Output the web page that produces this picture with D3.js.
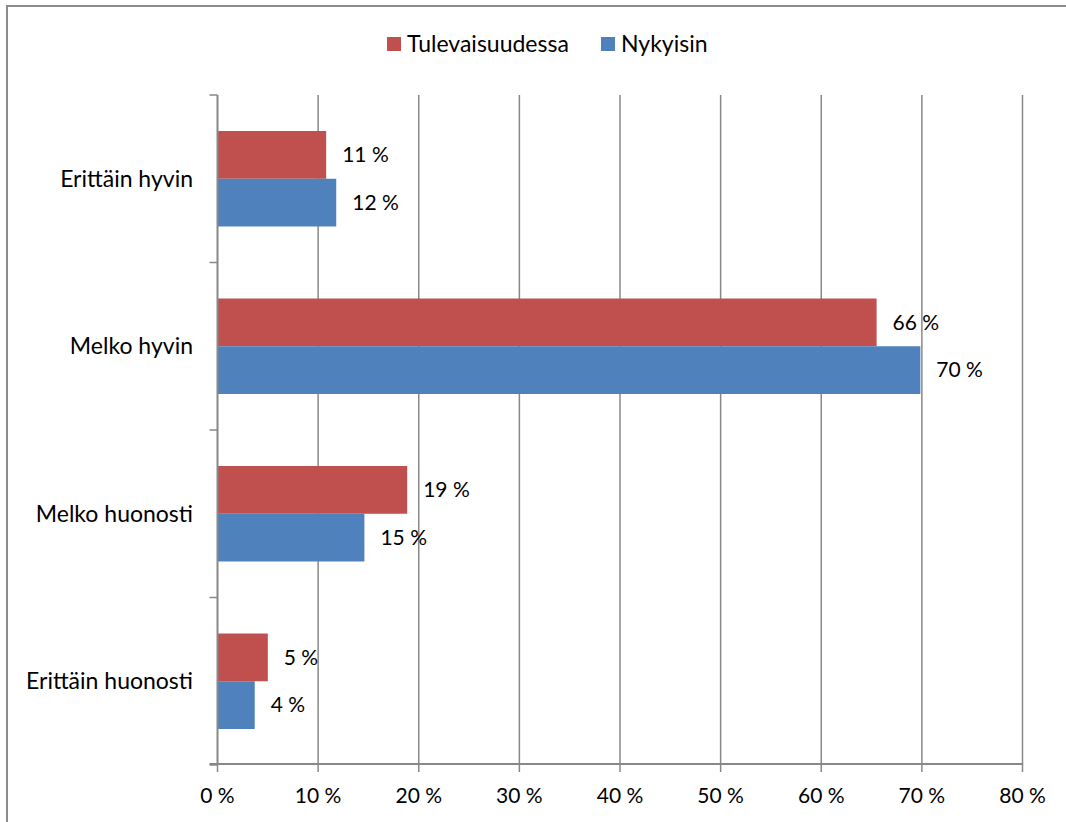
<!DOCTYPE html>
<html>
<head>
<meta charset="utf-8">
<script src="https://cdn.jsdelivr.net/npm/d3@7"></script>
<style>
	body { margin: 0; background: #fff; }
	text { font-family: Lato, "Open Sans", sans-serif; fill: #000; }
</style>
</head>
<body>
<svg id="chart" width="1066" height="822"></svg>
<script>
var categories = ["Erittäin hyvin", "Melko hyvin", "Melko huonosti", "Erittäin huonosti"];
var seriesNames = ["Tulevaisuudessa", "Nykyisin"];
var tulevaisuudessa = [10.8, 65.5, 18.85, 5.0];
var nykyisin = [11.8, 69.85, 14.6, 3.7];
var xTicks = [0, 10, 20, 30, 40, 50, 60, 70, 80];
var colors = ["#C0504D", "#4F81BD"];

var svg = d3.select("#chart");
var numSize = 21;   // numerot
var labelSize = 23; // nimet ja selite

// ulkokehys
svg.append("rect")
	.attr("x", 7).attr("y", 6)
	.attr("width", 1070).attr("height", 830)
	.attr("fill", "none")
	.attr("stroke", "#8c8c8c")
	.attr("stroke-width", 2);

var x = d3.scaleLinear().domain([0, 80]).range([217.5, 1022.5]);
var y = d3.scaleBand().domain(categories).range([95, 765])
	.paddingInner(0.43).paddingOuter(0.215);
var ySub = d3.scaleBand().domain(seriesNames).range([0, y.bandwidth()]);

// pystysuorat apuviivat
svg.append("g").selectAll("line")
	.data(xTicks.slice(1))
	.enter().append("line")
	.attr("x1", function(d){ return x(d); })
	.attr("x2", function(d){ return x(d); })
	.attr("y1", 95).attr("y2", 765)
	.attr("stroke", "#888").attr("stroke-width", 1.5);

var rows = categories.map(function(c, i) {
	return [
		{cat: c, name: seriesNames[0], value: tulevaisuudessa[i]},
		{cat: c, name: seriesNames[1], value: nykyisin[i]}
	];
});

var groups = svg.append("g").selectAll("g")
	.data(rows)
	.enter().append("g")
	.attr("transform", function(d){ return "translate(0," + y(d[0].cat) + ")"; });

groups.selectAll("rect")
	.data(function(d){ return d; })
	.enter().append("rect")
	.attr("x", x(0))
	.attr("y", function(d){ return ySub(d.name); })
	.attr("width", function(d){ return x(d.value) - x(0); })
	.attr("height", ySub.bandwidth())
	.attr("fill", function(d, i){ return colors[i]; });

groups.selectAll("text")
	.data(function(d){ return d; })
	.enter().append("text")
	.attr("x", function(d){ return x(d.value) + 16; })
	.attr("y", function(d){ return ySub(d.name) + ySub.bandwidth() / 2; })
	.attr("dy", "0.35em")
	.style("font-size", numSize + "px")
	.text(function(d){ return Math.round(d.value) + " %"; });

// akselit
var axisColor = "#888";
var yTickPos = [95].concat(categories.map(function(c){ return y(c) + y.bandwidth() + y.step() * y.paddingInner() / 2; }));
yTickPos[yTickPos.length - 1] = 765;
svg.append("line")
	.attr("x1", x(0)).attr("x2", x(0)).attr("y1", 95).attr("y2", 765)
	.attr("stroke", axisColor).attr("stroke-width", 2);
svg.append("g").selectAll("line")
	.data(yTickPos)
	.enter().append("line")
	.attr("x1", x(0) - 8).attr("x2", x(0))
	.attr("y1", function(d){ return d; }).attr("y2", function(d){ return d; })
	.attr("stroke", axisColor).attr("stroke-width", 1.5);

svg.append("line")
	.attr("x1", x(0) - 8).attr("x2", x(80)).attr("y1", 764).attr("y2", 764)
	.attr("stroke", axisColor).attr("stroke-width", 2);
svg.append("g").selectAll("line")
	.data(xTicks)
	.enter().append("line")
	.attr("x1", function(d){ return x(d); }).attr("x2", function(d){ return x(d); })
	.attr("y1", 764).attr("y2", 772)
	.attr("stroke", axisColor).attr("stroke-width", 1.5);

svg.append("g").selectAll("text")
	.data(xTicks)
	.enter().append("text")
	.attr("x", function(d){ return x(d); })
	.attr("y", 803)
	.attr("text-anchor", "middle")
	.style("font-size", numSize + "px")
	.text(function(d){ return d + " %"; });

svg.append("g").selectAll("text")
	.data(categories)
	.enter().append("text")
	.attr("x", 193)
	.attr("y", function(d){ return y(d) + y.bandwidth() / 2; })
	.attr("dy", "0.35em")
	.attr("text-anchor", "end")
	.style("font-size", labelSize + "px")
	.text(function(d){ return d; });

// selite
var legendX = [387, 601];
var legend = svg.append("g").selectAll("g")
	.data(seriesNames)
	.enter().append("g")
	.attr("transform", function(d, i){ return "translate(" + legendX[i] + ",37)"; });
legend.append("rect")
	.attr("width", 14).attr("height", 14)
	.attr("fill", function(d, i){ return colors[i]; });
legend.append("text")
	.attr("x", 20).attr("y", 7).attr("dy", "0.35em")
	.style("font-size", labelSize + "px")
	.text(function(d){ return d; });
</script>
</body>
</html>
